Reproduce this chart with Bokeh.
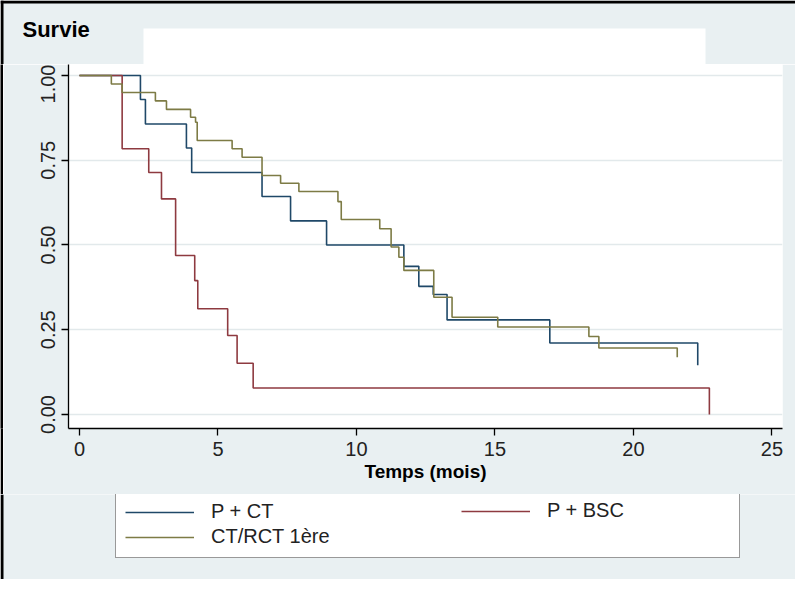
from bokeh.plotting import figure
from bokeh.models import Range1d, FixedTicker, Legend, LegendItem, Label, BoxAnnotation
from bokeh.layouts import column, row
from bokeh.embed import file_html
from bokeh.resources import INLINE

# ---- data ----
series_names = ["P + CT", "P + BSC", "CT/RCT 1ère"]

pct_time = [0, 2.20, 2.38, 3.86, 4.05, 6.59, 7.62, 8.92, 11.71, 12.25, 12.77, 13.27, 16.98, 22.32]
pct_surv = [1.0, 0.929, 0.857, 0.786, 0.714, 0.643, 0.571, 0.500, 0.437, 0.378, 0.354, 0.279, 0.211, 0.145]

bsc_time = [0, 1.54, 2.50, 2.96, 3.47, 4.16, 4.27, 5.35, 5.69, 6.27, 22.74]
bsc_surv = [1.0, 0.784, 0.714, 0.636, 0.469, 0.395, 0.312, 0.233, 0.151, 0.078, 0.0]

rct_time = [0, 1.15, 1.54, 2.74, 3.14, 4.01, 4.19, 4.25, 5.51, 5.87, 6.59, 7.26, 7.92,
            9.33, 9.45, 10.84, 11.25, 11.53, 11.71, 12.79, 13.45, 15.10, 18.39, 18.75, 21.58]
rct_surv = [1.0, 0.975, 0.95, 0.925, 0.90, 0.877, 0.862, 0.808, 0.784, 0.759, 0.705, 0.682, 0.658,
            0.628, 0.575, 0.548, 0.494, 0.464, 0.425, 0.346, 0.287, 0.258, 0.230, 0.196, 0.169]

x_ticks = [0, 5, 10, 15, 20, 25]
x_tick_labels = ["0", "5", "10", "15", "20", "25"]
y_ticks = [0, 0.25, 0.5, 0.75, 1.0]
y_tick_labels = ["0.00", "0.25", "0.50", "0.75", "1.00"]

title_text = "Survie"
x_title = "Temps (mois)"

colors = ["#1f4868", "#8e3a40", "#7d7b45"]
FONT = "Liberation Sans"
BG = "#e9f0f2"
TOTAL_W, TOTAL_H = 795, 579
TOP_H = 64          # header band (reference y 0..64)
MAIN_BOTTOM = 494   # main plot covers reference y 64..494
EDGE = 3
FRAME_L, FRAME_R, FRAME_B = 68, 782, 428


def band(width, height, fill=BG):
    f = figure(width=width, height=height, output_backend="svg", toolbar_location=None,
               x_range=Range1d(1000, 1001), y_range=Range1d(1000, 1001),
               x_axis_type=None, y_axis_type=None, min_border=0)
    f.background_fill_color = fill
    f.border_fill_color = fill
    f.outline_line_color = None
    f.xgrid.visible = False
    f.ygrid.visible = False
    return f


def screen_box(f, left, right, bottom, top, color):
    f.add_layout(BoxAnnotation(left=left, right=right, bottom=bottom, top=top,
                               left_units="screen", right_units="screen",
                               bottom_units="screen", top_units="screen",
                               fill_color=color, fill_alpha=1, line_color=None))


# ---- header band: "Survie" and the blank white box ----
top = band(TOTAL_W, TOP_H)
screen_box(top, 143, 705, 0, 36, "white")
screen_box(top, 0, TOTAL_W, TOP_H - EDGE, TOP_H, "black")
screen_box(top, 0, EDGE, 0, TOP_H, "black")
top.add_layout(Label(x=22, y=35, x_units="screen", y_units="screen", text=title_text,
                     text_font=FONT, text_font_size="22px", text_font_style="bold",
                     text_color="black", text_baseline="alphabetic"))

# ---- main plot ----
MAIN_W = TOTAL_W - EDGE
MAIN_H = MAIN_BOTTOM - TOP_H
p = figure(width=MAIN_W, height=MAIN_H, output_backend="svg", toolbar_location=None,
           x_range=Range1d(-0.397, 25.38), y_range=Range1d(-0.0413, 1.0324),
           min_border_left=FRAME_L - EDGE, min_border_right=MAIN_W - (FRAME_R - EDGE),
           min_border_top=0, min_border_bottom=MAIN_BOTTOM - FRAME_B)
p.background_fill_color = "white"
p.border_fill_color = BG
p.outline_line_color = None

r_pct = p.step(x=pct_time, y=pct_surv, mode="after", line_color=colors[0], line_width=1.6)
r_bsc = p.step(x=bsc_time, y=bsc_surv, mode="after", line_color=colors[1], line_width=1.6)
r_rct = p.step(x=rct_time, y=rct_surv, mode="after", line_color=colors[2], line_width=1.6)

for ax in (p.xaxis[0], p.yaxis[0]):
    ax.axis_line_color = "black"
    ax.axis_line_width = 1.3
    ax.major_tick_line_color = "black"
    ax.major_tick_line_width = 1.3
    ax.major_tick_out = 7
    ax.major_tick_in = 0
    ax.minor_tick_line_color = None
    ax.major_label_text_font = FONT
    ax.major_label_text_font_size = "20px"
    ax.major_label_text_color = "#222222"
    ax.major_label_standoff = 6

p.xaxis.ticker = FixedTicker(ticks=x_ticks)
p.xaxis.major_label_overrides = dict(zip(x_ticks, x_tick_labels))
p.yaxis.ticker = FixedTicker(ticks=y_ticks)
p.yaxis.major_label_overrides = dict(zip(y_ticks, y_tick_labels))
p.yaxis.major_label_orientation = "vertical"

p.xaxis.axis_label = x_title
p.xaxis.axis_label_text_font = FONT
p.xaxis.axis_label_text_font_size = "19px"
p.xaxis.axis_label_text_font_style = "bold"
p.xaxis.axis_label_text_color = "black"
p.xaxis.axis_label_standoff = 2

p.xgrid.visible = False
p.ygrid.ticker = FixedTicker(ticks=y_ticks)
p.ygrid.grid_line_color = "#e2e9eb"
p.ygrid.grid_line_width = 1.5

# left black edge beside the main plot
left_edge = band(EDGE, MAIN_H, fill="black")

# ---- legend band (its own full-canvas frame; sample renderers lie outside its ranges) ----
LEG_H = TOTAL_H - MAIN_BOTTOM
leg = band(TOTAL_W, LEG_H)
screen_box(leg, 0, EDGE, 0, LEG_H, "black")
l_pct = leg.step(x=pct_time, y=pct_surv, mode="after", line_color=colors[0], line_width=1.6)
l_bsc = leg.step(x=bsc_time, y=bsc_surv, mode="after", line_color=colors[1], line_width=1.6)
l_rct = leg.step(x=rct_time, y=rct_surv, mode="after", line_color=colors[2], line_width=1.6)

common = dict(padding=9, spacing=2, glyph_width=69, glyph_height=20, label_standoff=17,
              label_height=20, label_text_font=FONT, label_text_font_size="20px",
              label_text_color="#222222", margin=0)
box_bottom = LEG_H - (558 - MAIN_BOTTOM)
leg_a = Legend(items=[LegendItem(label=series_names[0], renderers=[l_pct]),
                     LegendItem(label=series_names[2], renderers=[l_rct])],
               location=(115, box_bottom), label_width=519,
               border_line_color="#333333", border_line_width=1.3,
               background_fill_color="white", background_fill_alpha=1, **common)
leg_b = Legend(items=[LegendItem(label=series_names[1], renderers=[l_bsc])],
               location=(461, box_bottom + 36), label_width=20,
               border_line_color=None, background_fill_alpha=0, **common)
leg.add_layout(leg_a)
leg.add_layout(leg_b)

page = column(top, row(left_edge, p, spacing=0), leg, spacing=0)

open("out.html", "w").write(file_html(page, INLINE))
